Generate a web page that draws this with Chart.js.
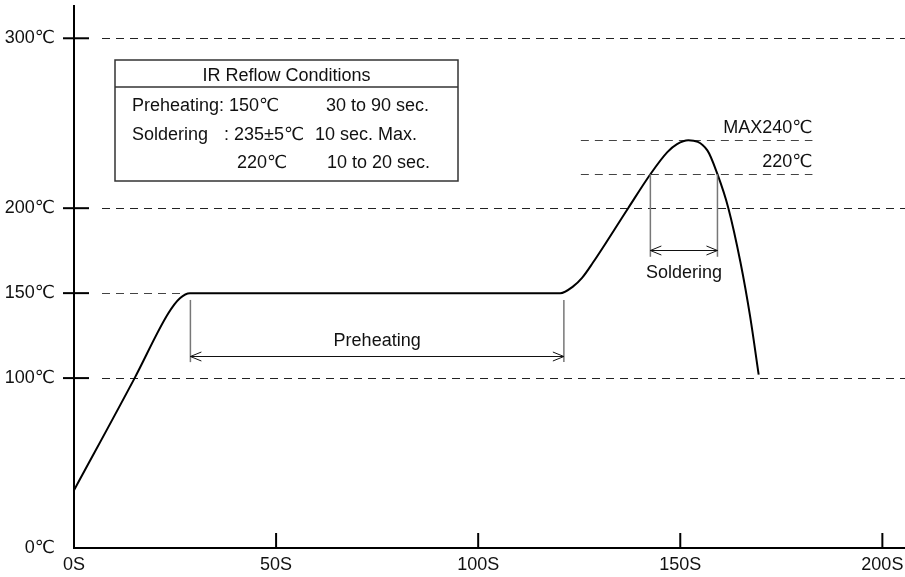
<!DOCTYPE html>
<html>
<head>
<meta charset="utf-8">
<script src="https://cdn.jsdelivr.net/npm/chart.js@4.4.1/dist/chart.umd.min.js"></script>
<style>
  html, body { margin: 0; background: #fff; }
  #wrap { width: 905px; height: 577px; position: relative; }
</style>
</head>
<body>
<div id="wrap"><canvas id="reflow"></canvas></div>
<script>
// reflow profile (time in s, temperature in ℃)
const seconds = [0, 15, 23.3, 26.2, 28.7, 31, 120.3, 123.5, 125.7, 128.4, 137.1, 142.6, 146.8, 149.2, 152, 156.7, 159.2, 161.9, 164.9, 167.3, 169.4];
const temps   = [34, 100, 138, 147, 150, 150, 150, 154, 159, 168, 200, 220, 233, 237.7, 240, 234, 220, 200, 168, 136, 102];

const xTicks = [0, 50, 100, 150, 200];
const yTicks = [0, 100, 150, 200, 300];
const yTickMarks = [100, 150, 200, 300];

// dashed reference lines
const dashedFull = [300, 200, 100];
const plateauTemp = 150;
const plateauReach = 28.7;          // s, where the 150℃ guide meets the curve
const limitTemps = [240, 220];
const limitLabels = ['MAX240℃', '220℃'];
const limitFrom = 125.4, limitTo = 182.7;

// interval markers
const preheatSpan = [28.8, 121.2];
const solderSpan = [142.6, 159.2];

const tableTitle = 'IR Reflow Conditions';

const FONT = '"Liberation Sans", Arial, "DejaVu Sans", sans-serif';

function seg(ctx, x0, y0, x1, y1) {
  ctx.beginPath();
  ctx.moveTo(x0, y0);
  ctx.lineTo(x1, y1);
  ctx.stroke();
}

function arrow(ctx, x0, x1, yy) {
  seg(ctx, x0, yy, x1, yy);
  ctx.beginPath();
  ctx.moveTo(x0 + 11, yy - 4.5); ctx.lineTo(x0, yy); ctx.lineTo(x0 + 11, yy + 4.5);
  ctx.moveTo(x1 - 11, yy - 4.5); ctx.lineTo(x1, yy); ctx.lineTo(x1 - 11, yy + 4.5);
  ctx.stroke();
}

const crisp = v => Math.round(v) + 0.5;

const notes = {
  id: 'notes',
  beforeDatasetsDraw(chart) {
    const { ctx, chartArea: a, scales: { x, y } } = chart;
    ctx.save();
    ctx.strokeStyle = '#222';
    ctx.lineWidth = 1;
    ctx.setLineDash([8, 6]);
    const start = a.left + 28;
    dashedFull.forEach(v => {
      const py = crisp(y.getPixelForValue(v));
      seg(ctx, start, py, a.right, py);
    });
    ctx.strokeStyle = '#444';
    const pp = crisp(y.getPixelForValue(plateauTemp));
    seg(ctx, start, pp, x.getPixelForValue(plateauReach), pp);
    limitTemps.forEach(v => {
      const py = crisp(y.getPixelForValue(v));
      seg(ctx, x.getPixelForValue(limitFrom), py, x.getPixelForValue(limitTo), py);
    });
    ctx.restore();
  },
  afterDatasetsDraw(chart) {
    const { ctx, chartArea: a, scales: { x, y } } = chart;
    ctx.save();
    ctx.setLineDash([]);

    // tick marks
    ctx.strokeStyle = '#000';
    ctx.lineWidth = 2;
    yTickMarks.forEach(v => {
      const py = y.getPixelForValue(v);
      seg(ctx, a.left - 11, py, a.left + 15, py);
    });
    xTicks.slice(1).forEach(v => {
      const px = x.getPixelForValue(v);
      seg(ctx, px, a.bottom, px, a.bottom - 15);
    });

    ctx.fillStyle = '#111';
    ctx.font = '18px ' + FONT;

    // limit labels
    ctx.textAlign = 'right';
    ctx.textBaseline = 'alphabetic';
    limitTemps.forEach((v, i) => {
      ctx.fillText(limitLabels[i], x.getPixelForValue(limitTo), y.getPixelForValue(v) - 7);
    });

    // preheating interval
    const p0 = x.getPixelForValue(preheatSpan[0]), p1 = x.getPixelForValue(preheatSpan[1]);
    ctx.strokeStyle = '#777';
    ctx.lineWidth = 1.5;
    seg(ctx, p0, y.getPixelForValue(146), p0, y.getPixelForValue(109.4));
    seg(ctx, p1, y.getPixelForValue(146), p1, y.getPixelForValue(109.4));
    ctx.strokeStyle = '#111';
    ctx.lineWidth = 1;
    arrow(ctx, p0, p1, crisp(y.getPixelForValue(113)));
    ctx.textAlign = 'center';
    ctx.fillText('Preheating', (p0 + p1) / 2, y.getPixelForValue(113) - 10);

    // soldering interval
    const s0 = x.getPixelForValue(solderSpan[0]), s1 = x.getPixelForValue(solderSpan[1]);
    ctx.strokeStyle = '#777';
    ctx.lineWidth = 1.5;
    seg(ctx, s0, y.getPixelForValue(220), s0, y.getPixelForValue(171.4));
    seg(ctx, s1, y.getPixelForValue(220), s1, y.getPixelForValue(171.4));
    ctx.strokeStyle = '#111';
    ctx.lineWidth = 1;
    arrow(ctx, s0, s1, crisp(y.getPixelForValue(175.3)));
    ctx.fillText('Soldering', (s0 + s1) / 2, y.getPixelForValue(175.3) + 28);

    // conditions table
    const bx = a.left + 41, by = 60, bw = 343, bh = 121;
    ctx.strokeStyle = '#333';
    ctx.lineWidth = 1.5;
    ctx.strokeRect(bx, by, bw, bh);
    seg(ctx, bx, by + 27, bx + bw, by + 27);
    ctx.textAlign = 'center';
    ctx.fillText(tableTitle, bx + bw / 2, by + 21);
    ctx.textAlign = 'left';
    ctx.fillText('Preheating: 150℃', bx + 17, by + 51);
    ctx.fillText('30 to 90 sec.', bx + 211, by + 51);
    ctx.fillText('Soldering', bx + 17, by + 80);
    ctx.fillText(': 235±5℃', bx + 109, by + 80);
    ctx.fillText('10 sec. Max.', bx + 200, by + 80);
    ctx.fillText('220℃', bx + 122, by + 108);
    ctx.fillText('10 to 20 sec.', bx + 212, by + 108);

    ctx.restore();
  }
};

const tickFont = { family: FONT, size: 18 };

new Chart(document.getElementById('reflow'), {
  type: 'line',
  data: {
    datasets: [{
      data: seconds.map((s, i) => ({ x: s, y: temps[i] })),
      borderColor: '#000',
      borderWidth: 2,
      pointRadius: 0,
      cubicInterpolationMode: 'monotone',
      fill: false
    }]
  },
  options: {
    responsive: true,
    maintainAspectRatio: false,
    animation: false,
    layout: { padding: { top: 6, right: 0, bottom: 0, left: 0 } },
    plugins: { legend: { display: false }, tooltip: { enabled: false } },
    scales: {
      x: {
        type: 'linear',
        min: 0,
        max: 205.6,
        afterBuildTicks: s => { s.ticks = xTicks.map(v => ({ value: v })); },
        afterFit: s => { s.height = 29; s.paddingLeft = 0; s.paddingRight = 0; },
        grid: { display: false, drawTicks: false },
        border: { display: true, color: '#000', width: 2 },
        ticks: { padding: 6, color: '#111', font: tickFont, maxRotation: 0, autoSkip: false, callback: v => v + 'S' }
      },
      y: {
        type: 'linear',
        min: 0,
        max: 319,
        afterBuildTicks: s => { s.ticks = yTicks.map(v => ({ value: v })); },
        afterFit: s => { s.width = 74; s.paddingTop = 0; s.paddingBottom = 0; },
        grid: { display: false, drawTicks: false },
        border: { display: true, color: '#000', width: 2 },
        ticks: { padding: 19, color: '#111', font: tickFont, autoSkip: false, callback: v => v + '℃' }
      }
    }
  },
  plugins: [notes]
});
</script>
</body>
</html>
